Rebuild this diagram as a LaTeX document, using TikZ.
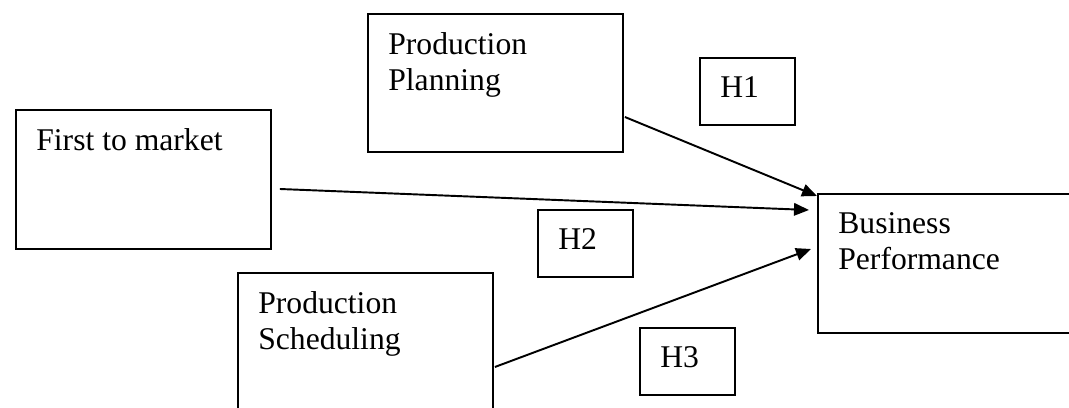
\documentclass[tikz,border=0pt]{standalone}
\usepackage{fontspec}
\setmainfont{Liberation Serif}
\usetikzlibrary{calc,arrows.meta}
\begin{document}
\begin{tikzpicture}[x=0.02cm,y=-0.02cm,
  box/.style={draw,line width=1.1pt,inner sep=0pt,anchor=north west},
  txt/.style={anchor=north west,inner sep=0pt,align=left,
    font=\fontsize{18}{20.8}\selectfont},
  arr/.style={line width=1.1pt,-{Triangle[length=0.3cm,width=0.25cm]}}]
  \useasboundingbox (0,0) rectangle (1069,408);
  \clip (0,0) rectangle (1069,408);
  % boxes
  \node[box,minimum width=5.1cm,minimum height=2.76cm] (pp) at (367,13) {};
  \node[box,minimum width=1.9cm,minimum height=1.34cm] (h1) at (699,57) {};
  \node[box,minimum width=5.1cm,minimum height=2.78cm] (ftm) at (15,109) {};
  \node[box,minimum width=5.4cm,minimum height=2.78cm] (bp) at (817,193) {};
  \node[box,minimum width=1.9cm,minimum height=1.34cm] (h2) at (537,209) {};
  \node[box,minimum width=5.1cm,minimum height=3.4cm] (ps) at (237,272) {};
  \node[box,minimum width=1.9cm,minimum height=1.34cm] (h3) at (639,327) {};
  % labels
  \node[txt] (tpp) at ($(pp.north west)+(21,19)$) {Production\\Planning};
  \node[txt] (th1) at ($(h1.north west)+(21,19)$) {H1};
  \node[txt] (tftm) at ($(ftm.north west)+(21,19)$) {First to market};
  \node[txt] (tbp) at ($(bp.north west)+(21,19)$) {Business\\Performance};
  \node[txt] (th2) at ($(h2.north west)+(21,19)$) {H2};
  \node[txt] (tps) at ($(ps.north west)+(21,19)$) {Production\\Scheduling};
  \node[txt] (th3) at ($(h3.north west)+(21,19)$) {H3};
  % connectors
  \draw[arr] ($(pp.north east)+(1,104)$) -- ($(bp.north west)+(0,3)$);
  \draw[arr] ($(ftm.north east)+(8,80)$) -- ($(bp.north west)+(-8,17)$);
  \draw[arr] ($(ps.north east)+(1,95)$) -- ($(bp.north west)+(-6,56)$);
\end{tikzpicture}
\end{document}
